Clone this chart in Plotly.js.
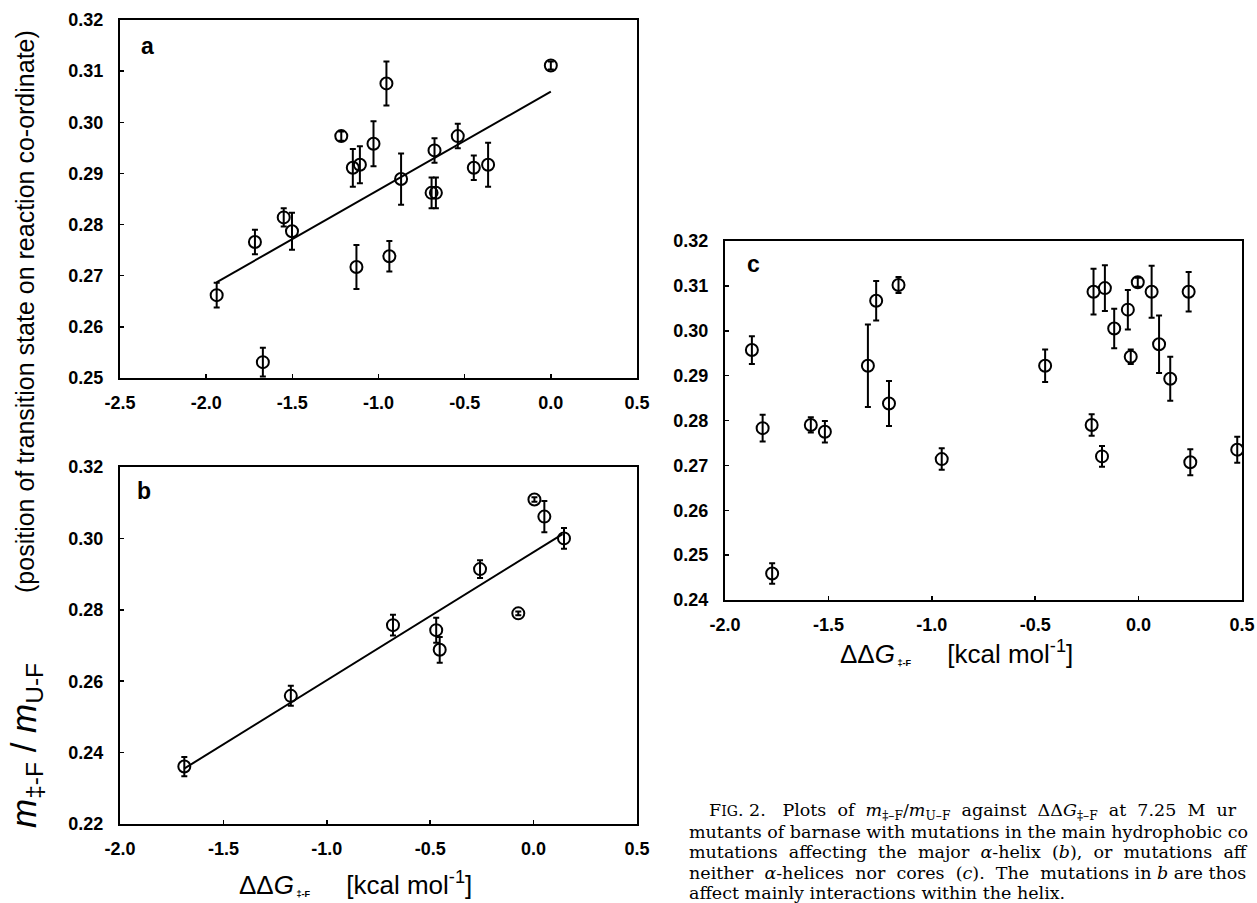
<!DOCTYPE html>
<html>
<head>
<meta charset="utf-8">
<script src="https://cdn.plot.ly/plotly-3.0.1.min.js"></script>
<style>html,body{margin:0;padding:0;background:#fff;}#chart{width:1257px;height:903px;}</style>
</head>
<body>
<div id="chart"></div>
<script>
// ---------- Panel a (main hydrophobic core) ----------
const aX   = [-1.939, -1.717, -1.671, -1.550, -1.502, -1.216, -1.149, -1.108, -1.128, -1.029, -0.954, -0.937, -0.869, -0.692, -0.667, -0.675, -0.540, -0.447, -0.364, 0.000];
const aY   = [0.2662, 0.2766, 0.2531, 0.2814, 0.2787, 0.2973, 0.2911, 0.2917, 0.2717, 0.2958, 0.3076, 0.2738, 0.2889, 0.2862, 0.2862, 0.2945, 0.2973, 0.2911, 0.2917, 0.3111];
const aErr = [0.0024, 0.0024, 0.0028, 0.0018, 0.0036, 0.0009, 0.0037, 0.0036, 0.0043, 0.0044, 0.0043, 0.0030, 0.0050, 0.0030, 0.0030, 0.0024, 0.0024, 0.0024, 0.0043, 0.0008];
const aFitX = [-1.94, 0.0];
const aFitY = [0.2687, 0.3060];

// ---------- Panel b (major alpha-helix) ----------
const bX   = [-1.689, -1.174, -0.680, -0.471, -0.454, -0.259, -0.074, 0.004, 0.052, 0.147];
const bY   = [0.2361, 0.2559, 0.2757, 0.2743, 0.2688, 0.2914, 0.2790, 0.3109, 0.3061, 0.3000];
const bErr = [0.0027, 0.0028, 0.0029, 0.0035, 0.0036, 0.0025, 0.0005, 0.0006, 0.0044, 0.0029];
const bFitX = [-1.69, 0.14];
const bFitY = [0.2355, 0.3012];

// ---------- Panel c (neither helices nor cores) ----------
const cX   = [-1.870, -1.818, -1.772, -1.585, -1.517, -1.309, -1.269, -1.207, -1.161, -0.952, -0.452, -0.227, -0.218, -0.177, -0.163, -0.118, -0.052, -0.038, -0.004, 0.063, 0.099, 0.153, 0.242, 0.250, 0.477];
const cY   = [0.2957, 0.2783, 0.2459, 0.2790, 0.2775, 0.2922, 0.3067, 0.2838, 0.3102, 0.2714, 0.2922, 0.2790, 0.3087, 0.2720, 0.3095, 0.3005, 0.3047, 0.2942, 0.3108, 0.3087, 0.2970, 0.2893, 0.3087, 0.2707, 0.2735];
const cErr = [0.0031, 0.0030, 0.0023, 0.0017, 0.0024, 0.0092, 0.0044, 0.0050, 0.0018, 0.0024, 0.0036, 0.0024, 0.0051, 0.0023, 0.0051, 0.0044, 0.0044, 0.0016, 0.0010, 0.0058, 0.0064, 0.0049, 0.0044, 0.0029, 0.0029];

// ---------- Tick labels ----------
const xTicksA = [-2.5, -2.0, -1.5, -1.0, -0.5, 0.0, 0.5];
const xLabelsA = ['-2.5', '-2.0', '-1.5', '-1.0', '-0.5', '0.0', '0.5'];
const xTicksBC = [-2.0, -1.5, -1.0, -0.5, 0.0, 0.5];
const xLabelsBC = ['-2.0', '-1.5', '-1.0', '-0.5', '0.0', '0.5'];
const yTicksA = [0.25, 0.26, 0.27, 0.28, 0.29, 0.30, 0.31, 0.32];
const yTicksB = [0.22, 0.24, 0.26, 0.28, 0.30, 0.32];
const yTicksC = [0.24, 0.25, 0.26, 0.27, 0.28, 0.29, 0.30, 0.31, 0.32];

// ---------- Texts ----------
const panelLabels = ['a', 'b', 'c'];
const xTitle = 'ΔΔ<i>G</i><span style="font-size:13px"><b><sub> ‡-F</sub></b></span>     [kcal mol<sup>-1</sup>]';
const yTitleM = '<i>m</i><sub>‡-F</sub> / <i>m</i><sub>U-F</sub>';
const yTitleP = '(position of transition state on reaction co-ordinate)';
// caption as visible in the reference (cropped at the right edge of the page)
const captionLines = [
  'F<span style="font-size:14px">IG</span>. 2.   Plots  of  <i>m</i><sub>‡–F</sub>/<i>m</i><sub>U–F</sub>  against  ΔΔ<i>G</i><sub>‡–F</sub>  at  7.25  M  ur',
  'mutants of barnase with mutations in the main hydrophobic co',
  'mutations  affecting  the  major  <i>α</i>-helix  (<i>b</i>),  or  mutations  aff',
  'neither  <i>α</i>-helices  nor  cores  (<i>c</i>).  The  mutations in <i>b</i> are thos',
  'affect mainly interactions within the helix.'
];

function pts(x, y, e, xa, ya) {
  return {
    x: x, y: y, xaxis: xa, yaxis: ya, type: 'scatter', mode: 'markers',
    marker: {symbol: 'circle-open', size: 12, color: 'black', line: {width: 2, color: 'black'}},
    error_y: {type: 'data', array: e, visible: true, color: 'black', thickness: 2, width: 3},
    showlegend: false, hoverinfo: 'skip'
  };
}
function fit(x, y, xa, ya) {
  return {x: x, y: y, xaxis: xa, yaxis: ya, type: 'scatter', mode: 'lines',
    line: {color: 'black', width: 2}, showlegend: false, hoverinfo: 'skip'};
}

const data = [
  fit(aFitX, aFitY, 'x', 'y'), pts(aX, aY, aErr, 'x', 'y'),
  fit(bFitX, bFitY, 'x2', 'y2'), pts(bX, bY, bErr, 'x2', 'y2'),
  pts(cX, cY, cErr, 'x3', 'y3')
];

const tickFont = {family: 'Liberation Sans, Arial, sans-serif', size: 18, color: 'black', weight: 'bold'};
function ax(extra) {
  return Object.assign({
    showline: true, mirror: true, linecolor: 'black', linewidth: 2,
    ticks: 'inside', ticklen: 4, tickwidth: 1.5, tickcolor: 'black',
    showgrid: false, zeroline: false, tickfont: tickFont, fixedrange: true
  }, extra);
}

const W = 1257, H = 903;
const px = v => v / W, py = v => 1 - v / H;

function ann(text, x, y, font, extra) {
  return Object.assign({text: text, x: px(x), y: py(y), xref: 'paper', yref: 'paper',
    xanchor: 'center', yanchor: 'middle', showarrow: false, font: font}, extra || {});
}
const sans = 'Liberation Sans, Arial, sans-serif';
const labelFont = {family: sans, size: 23, weight: 'bold', color: 'black'};
const titleFont = {family: sans, size: 26, color: 'black'};

const annotations = [
  ann(panelLabels[0], 147, 46, labelFont),
  ann(panelLabels[1], 144, 491, labelFont),
  ann(panelLabels[2], 753, 264, labelFont),
  ann(xTitle, 355, 883, titleFont),
  ann(xTitle, 956, 652, titleFont),
  ann(yTitleP, 25, 312, {family: sans, size: 25, color: 'black'}, {textangle: -90}),
  ann(yTitleM, 26, 746, {family: sans, size: 35, color: 'black'}, {textangle: -90})
];
const capY = [811, 832, 852, 873, 893];
const capX = [707, 687, 687, 687, 687];
captionLines.forEach((t, i) => {
  annotations.push(ann(t, capX[i], capY[i], {family: 'DejaVu Serif, Liberation Serif, serif', size: 17.5, color: 'black'},
    {xanchor: 'left', align: 'left'}));
});

const layout = {
  width: W, height: H, autosize: false,
  margin: {l: 0, r: 0, t: 0, b: 0, pad: 0},
  paper_bgcolor: 'white', plot_bgcolor: 'white',
  showlegend: false,
  xaxis:  ax({domain: [px(120), px(637)], range: [-2.5, 0.5], anchor: 'y', tickvals: xTicksA, ticktext: xLabelsA, ticklabelstandoff: 7}),
  yaxis:  ax({domain: [py(378), py(20)], range: [0.25, 0.32], anchor: 'x', tickvals: yTicksA, ticktext: yTicksA.map(v => v.toFixed(2)), ticklabelstandoff: 11}),
  xaxis2: ax({domain: [px(120), px(637)], range: [-2.0, 0.5], anchor: 'y2', tickvals: xTicksBC, ticktext: xLabelsBC, ticklabelstandoff: 7}),
  yaxis2: ax({domain: [py(824), py(467)], range: [0.22, 0.32], anchor: 'x2', tickvals: yTicksB, ticktext: yTicksB.map(v => v.toFixed(2)), ticklabelstandoff: 11}),
  xaxis3: ax({domain: [px(725), px(1242)], range: [-2.0, 0.5], anchor: 'y3', tickvals: xTicksBC, ticktext: xLabelsBC, ticklabelstandoff: 7}),
  yaxis3: ax({domain: [py(600), py(241)], range: [0.24, 0.32], anchor: 'x3', tickvals: yTicksC, ticktext: yTicksC.map(v => v.toFixed(2)), ticklabelstandoff: 11}),
  annotations: annotations
};

Plotly.newPlot('chart', data, layout, {staticPlot: true, displayModeBar: false});
</script>
</body>
</html>
